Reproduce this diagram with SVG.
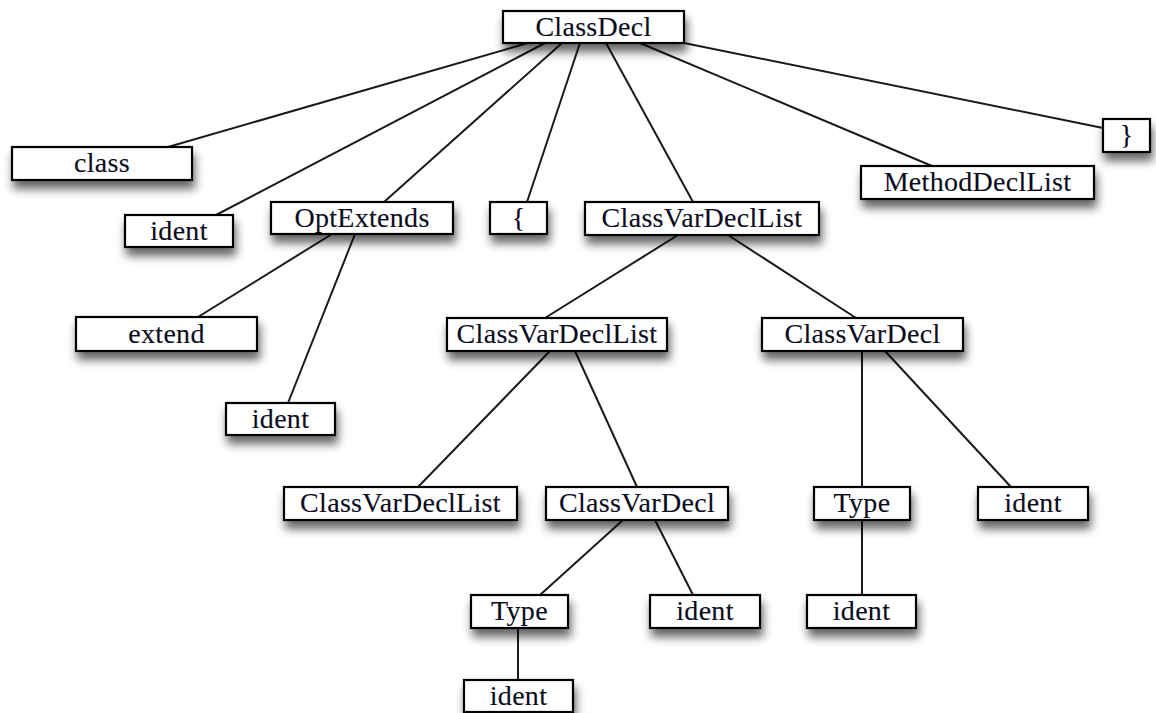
<svg xmlns="http://www.w3.org/2000/svg" width="1156" height="713" viewBox="0 0 1156 713">
<defs>
<filter id="sh" x="-20%" y="-40%" width="140%" height="220%">
<feDropShadow dx="2" dy="8" stdDeviation="5" flood-color="#000" flood-opacity="0.6"/>
</filter>
<style>
.b{fill:#fff;stroke:#000;stroke-width:2.2;filter:url(#sh)}
.t{font-family:"Liberation Serif","Times New Roman",serif;font-size:28px;fill:#0b0b1e;stroke:#0b0b1e;stroke-width:0.12;text-anchor:middle;letter-spacing:0.3px}
.c line{stroke:#1a1a1a;stroke-width:2}
</style>
</defs>
<rect width="1156" height="713" fill="#fff"/>
<g class="c" id="connectors">
<line x1="528" y1="43" x2="168" y2="147"/>
<line x1="545" y1="43" x2="216" y2="215"/>
<line x1="562" y1="43" x2="384" y2="202"/>
<line x1="580" y1="43" x2="527" y2="202"/>
<line x1="606" y1="43" x2="693" y2="202"/>
<line x1="640" y1="43" x2="932" y2="166"/>
<line x1="684" y1="43" x2="1103" y2="128"/>
<line x1="332" y1="234" x2="198" y2="317"/>
<line x1="355" y1="234" x2="288" y2="403"/>
<line x1="678" y1="235" x2="545" y2="318"/>
<line x1="728" y1="235" x2="856" y2="318"/>
<line x1="550" y1="351" x2="418" y2="487"/>
<line x1="575" y1="351" x2="637" y2="487"/>
<line x1="862" y1="351" x2="862" y2="487"/>
<line x1="885" y1="351" x2="1011" y2="487"/>
<line x1="862" y1="520" x2="862" y2="595"/>
<line x1="623" y1="520" x2="540" y2="595"/>
<line x1="655" y1="520" x2="693" y2="595"/>
<line x1="518" y1="628" x2="518" y2="680"/>
</g>
<g id="n-classdecl"><rect class="b" x="503" y="11" width="181" height="32"/><text class="t" x="593.5" y="36">ClassDecl</text></g>
<g id="n-class"><rect class="b" x="12" y="147" width="180" height="33"/><text class="t" x="102" y="172">class</text></g>
<g id="n-ident1"><rect class="b" x="125" y="215" width="108" height="32"/><text class="t" x="179" y="240">ident</text></g>
<g id="n-optextends"><rect class="b" x="271" y="202" width="182" height="32"/><text class="t" x="362" y="227">OptExtends</text></g>
<g id="n-lbrace"><rect class="b" x="490" y="202" width="57" height="32"/><text class="t" x="518.5" y="227">{</text></g>
<g id="n-cvdl1"><rect class="b" x="585" y="202" width="234" height="33"/><text class="t" x="702" y="227">ClassVarDeclList</text></g>
<g id="n-methoddecllist"><rect class="b" x="861" y="166" width="233" height="33"/><text class="t" x="977.5" y="191">MethodDeclList</text></g>
<g id="n-rbrace"><rect class="b" x="1103" y="119" width="47" height="33"/><text class="t" x="1126.5" y="144">}</text></g>
<g id="n-extend"><rect class="b" x="76" y="317" width="181" height="34"/><text class="t" x="166.5" y="343">extend</text></g>
<g id="n-ident2"><rect class="b" x="226" y="403" width="109" height="32"/><text class="t" x="280.5" y="428">ident</text></g>
<g id="n-cvdl2"><rect class="b" x="447" y="318" width="220" height="33"/><text class="t" x="557" y="343">ClassVarDeclList</text></g>
<g id="n-cvd1"><rect class="b" x="762" y="318" width="201" height="33"/><text class="t" x="862.5" y="343">ClassVarDecl</text></g>
<g id="n-cvdl3"><rect class="b" x="284" y="487" width="233" height="33"/><text class="t" x="400.5" y="512">ClassVarDeclList</text></g>
<g id="n-cvd2"><rect class="b" x="546" y="487" width="182" height="33"/><text class="t" x="637" y="512">ClassVarDecl</text></g>
<g id="n-type1"><rect class="b" x="814" y="487" width="96" height="33"/><text class="t" x="862" y="512">Type</text></g>
<g id="n-ident3"><rect class="b" x="978" y="487" width="110" height="33"/><text class="t" x="1033" y="512">ident</text></g>
<g id="n-type2"><rect class="b" x="471" y="595" width="97" height="33"/><text class="t" x="519.5" y="620">Type</text></g>
<g id="n-ident4"><rect class="b" x="650" y="595" width="110" height="33"/><text class="t" x="705" y="620">ident</text></g>
<g id="n-ident5"><rect class="b" x="807" y="595" width="109" height="33"/><text class="t" x="861.5" y="620">ident</text></g>
<g id="n-ident6"><rect class="b" x="464" y="680" width="109" height="32"/><text class="t" x="518.5" y="705">ident</text></g>
</svg>
